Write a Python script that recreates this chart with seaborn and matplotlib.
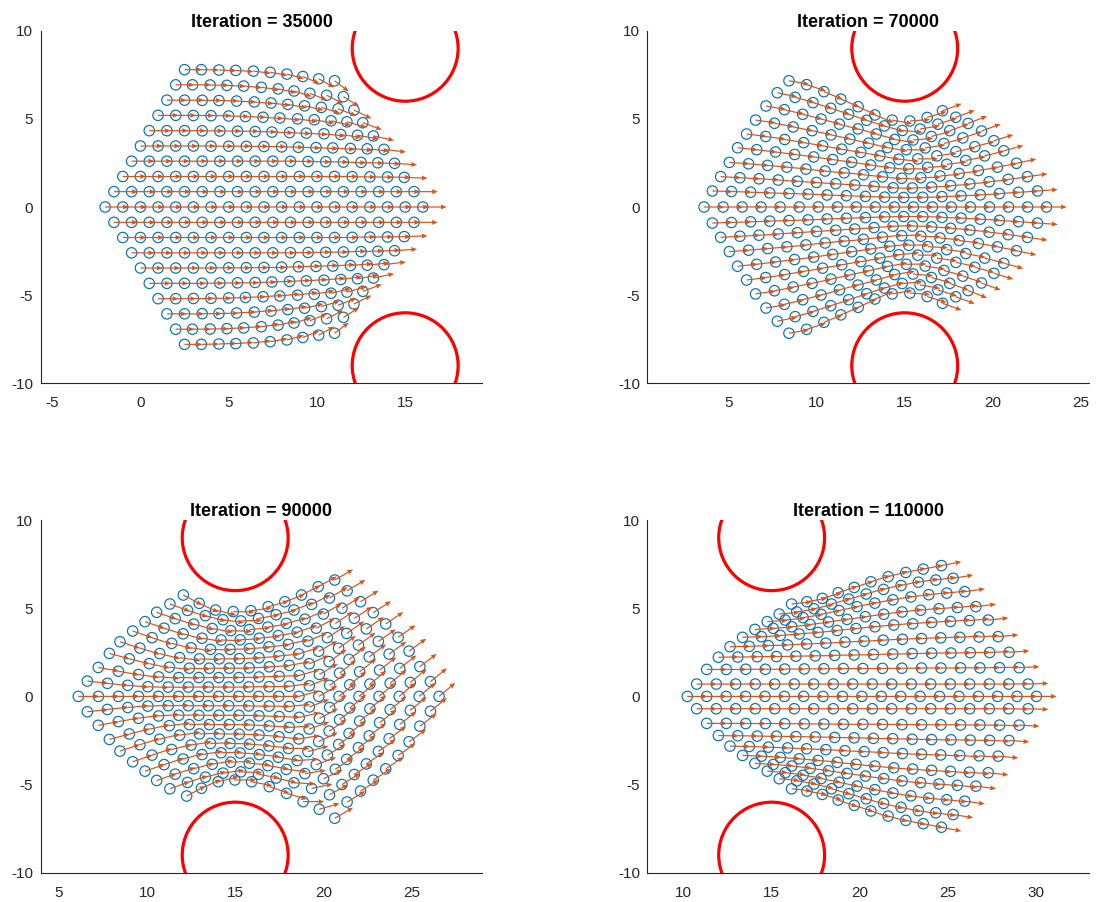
import numpy as np
import pandas as pd
import matplotlib
matplotlib.use("Agg")
import matplotlib.pyplot as plt
from matplotlib.patches import Circle
import seaborn as sns

# ---------------------------------------------------------------------------
# Swarm snapshots.  Each snapshot holds 19 rows of agents (row +9 at the top
# down to row -9 at the bottom); per agent: position and heading in degrees.
# ---------------------------------------------------------------------------
ITERATIONS = [35000, 70000, 90000, 110000]
OBSTACLE_CENTERS = [(15.0, 9.0), (15.0, -9.0)]
OBSTACLE_RADIUS = 3.0

# ---- Iteration 35000 -------------------------------------------------------
S1_X = [
    [2.5, 3.45, 4.45, 5.4, 6.4, 7.35, 8.3, 9.2, 10.1, 11.0],
    [2.0, 2.95, 3.95, 4.9, 5.85, 6.85, 7.8, 8.7, 9.6, 10.55, 11.5],
    [1.5, 2.5, 3.5, 4.45, 5.45, 6.45, 7.4, 8.35, 9.3, 10.25, 11.2, 12.1],
    [1.0, 2.0, 3.0, 4.0, 5.0, 5.95, 6.95, 7.9, 8.9, 9.85, 10.8, 11.7, 12.6],
    [0.5, 1.5, 2.5, 3.5, 4.5, 5.5, 6.5, 7.45, 8.45, 9.4, 10.4, 11.35, 12.3, 13.2],
    [0.0, 1.0, 2.0, 3.0, 4.0, 5.0, 6.0, 7.0, 8.0, 8.95, 9.95, 10.9, 11.9, 12.85, 13.8],
    [-0.5, 0.5, 1.5, 2.5, 3.5, 4.5, 5.5, 6.5, 7.5, 8.5, 9.5, 10.5, 11.5, 12.5, 13.45, 14.4],
    [-1, 0, 1, 2, 3, 4, 5, 6, 7, 8, 9, 10, 11, 12, 13, 14, 14.95],
    [-1.5, -0.5, 0.5, 1.5, 2.5, 3.5, 4.5, 5.5, 6.5, 7.5, 8.5, 9.5, 10.5, 11.5, 12.5, 13.5, 14.5, 15.5],
    [-2, -1, 0, 1, 2, 3, 4, 5, 6, 7, 8, 9, 10, 11, 12, 13, 14, 15, 16],
    [-1.5, -0.5, 0.5, 1.5, 2.5, 3.5, 4.5, 5.5, 6.5, 7.5, 8.5, 9.5, 10.5, 11.5, 12.5, 13.5, 14.5, 15.5],
    [-1, 0, 1, 2, 3, 4, 5, 6, 7, 8, 9, 10, 11, 12, 13, 14, 14.95],
    [-0.5, 0.5, 1.5, 2.5, 3.5, 4.5, 5.5, 6.5, 7.5, 8.5, 9.5, 10.5, 11.5, 12.5, 13.45, 14.4],
    [0.0, 1.0, 2.0, 3.0, 4.0, 5.0, 6.0, 7.0, 8.0, 8.95, 9.95, 10.9, 11.9, 12.85, 13.8],
    [0.5, 1.5, 2.5, 3.5, 4.5, 5.5, 6.5, 7.45, 8.45, 9.4, 10.4, 11.35, 12.3, 13.2],
    [1.0, 2.0, 3.0, 4.0, 5.0, 5.95, 6.95, 7.9, 8.9, 9.85, 10.8, 11.7, 12.6],
    [1.5, 2.5, 3.5, 4.45, 5.45, 6.45, 7.4, 8.35, 9.3, 10.25, 11.2, 12.1],
    [2.0, 2.95, 3.95, 4.9, 5.85, 6.85, 7.8, 8.7, 9.6, 10.55, 11.5],
    [2.5, 3.45, 4.45, 5.4, 6.4, 7.35, 8.3, 9.2, 10.1, 11.0],
]
S1_Y = [
    [7.79, 7.79, 7.77, 7.75, 7.71, 7.64, 7.54, 7.40, 7.27, 7.16],
    [6.93, 6.93, 6.92, 6.90, 6.86, 6.79, 6.70, 6.58, 6.45, 6.34, 6.26],
    [6.06, 6.06, 6.05, 6.04, 6.01, 5.96, 5.90, 5.82, 5.74, 5.65, 5.57, 5.50],
    [5.20, 5.20, 5.19, 5.18, 5.16, 5.13, 5.09, 5.05, 5.00, 4.95, 4.89, 4.83, 4.78],
    [4.33, 4.33, 4.33, 4.32, 4.31, 4.30, 4.28, 4.25, 4.22, 4.19, 4.15, 4.11, 4.07, 4.03],
    [3.46, 3.46, 3.46, 3.46, 3.45, 3.45, 3.44, 3.43, 3.41, 3.39, 3.37, 3.35, 3.32, 3.30, 3.27],
    [2.60, 2.60, 2.60, 2.60, 2.60, 2.60, 2.60, 2.60, 2.60, 2.59, 2.58, 2.57, 2.55, 2.53, 2.51, 2.48],
    [1.73, 1.73, 1.73, 1.73, 1.73, 1.73, 1.73, 1.73, 1.73, 1.73, 1.73, 1.73, 1.73, 1.72, 1.71, 1.70, 1.68],
    [0.87, 0.87, 0.87, 0.87, 0.87, 0.87, 0.87, 0.87, 0.87, 0.87, 0.87, 0.87, 0.87, 0.87, 0.87, 0.87, 0.87, 0.87],
    [0, 0, 0, 0, 0, 0, 0, 0, 0, 0, 0, 0, 0, 0, 0, 0, 0, 0, 0],
    [-0.87, -0.87, -0.87, -0.87, -0.87, -0.87, -0.87, -0.87, -0.87, -0.87, -0.87, -0.87, -0.87, -0.87, -0.87, -0.87, -0.87, -0.87],
    [-1.73, -1.73, -1.73, -1.73, -1.73, -1.73, -1.73, -1.73, -1.73, -1.73, -1.73, -1.73, -1.73, -1.72, -1.71, -1.70, -1.68],
    [-2.60, -2.60, -2.60, -2.60, -2.60, -2.60, -2.60, -2.60, -2.60, -2.59, -2.58, -2.57, -2.55, -2.53, -2.51, -2.48],
    [-3.46, -3.46, -3.46, -3.46, -3.45, -3.45, -3.44, -3.43, -3.41, -3.39, -3.37, -3.35, -3.32, -3.30, -3.27],
    [-4.33, -4.33, -4.33, -4.32, -4.31, -4.30, -4.28, -4.25, -4.22, -4.19, -4.15, -4.11, -4.07, -4.03],
    [-5.20, -5.20, -5.19, -5.18, -5.16, -5.13, -5.09, -5.05, -5.00, -4.95, -4.89, -4.83, -4.78],
    [-6.06, -6.06, -6.05, -6.04, -6.01, -5.96, -5.90, -5.82, -5.74, -5.65, -5.57, -5.50],
    [-6.93, -6.93, -6.92, -6.90, -6.86, -6.79, -6.70, -6.58, -6.45, -6.34, -6.26],
    [-7.79, -7.79, -7.77, -7.75, -7.71, -7.64, -7.54, -7.40, -7.27, -7.16],
]
S1_HEADING = [
    [0, -1, -2, -4, -7, -10, -15, -22, -29, -37],
    [0, 0, -1, -3, -5, -8, -12, -17, -22, -27, -32],
    [0, 0, 0, -1, -3, -5, -7, -10, -13, -17, -21, -26],
    [0, 0, 0, 0, -1, -2, -4, -6, -8, -10, -13, -16, -20],
    [0, 0, 0, 0, 0, 0, -1, -2, -3, -4, -6, -8, -10, -12],
    [0, 0, 0, 0, 0, 0, 0, 0, -1, -2, -3, -4, -5, -6, -7],
    [0, 0, 0, 0, 0, 0, 0, 0, 0, 0, -1, -1, -2, -2, -3, -4],
    [0, 0, 0, 0, 0, 0, 0, 0, 0, 0, 0, 0, 0, -1, -1, -1, -2],
    [0, 0, 0, 0, 0, 0, 0, 0, 0, 0, 0, 0, 0, 0, 0, 0, 0, 0],
    [0, 0, 0, 0, 0, 0, 0, 0, 0, 0, 0, 0, 0, 0, 0, 0, 0, 0, 0],
    [0, 0, 0, 0, 0, 0, 0, 0, 0, 0, 0, 0, 0, 0, 0, 0, 0, 0],
    [0, 0, 0, 0, 0, 0, 0, 0, 0, 0, 0, 0, 0, 1, 1, 1, 2],
    [0, 0, 0, 0, 0, 0, 0, 0, 0, 0, 1, 1, 2, 2, 3, 4],
    [0, 0, 0, 0, 0, 0, 0, 0, 1, 2, 3, 4, 5, 6, 7],
    [0, 0, 0, 0, 0, 0, 1, 2, 3, 4, 6, 8, 10, 12],
    [0, 0, 0, 0, 1, 2, 4, 6, 8, 10, 13, 16, 20],
    [0, 0, 0, 1, 3, 5, 7, 10, 13, 17, 21, 26],
    [0, 0, 1, 3, 5, 8, 12, 17, 22, 27, 32],
    [0, 1, 2, 4, 7, 10, 15, 22, 29, 37],
]
S1_SPEED = [1.0, 1.05, 1.1, 1.15, 1.2, 1.25, 1.28, 1.32, 1.35, 1.35,
            1.35, 1.32, 1.28, 1.25, 1.2, 1.15, 1.1, 1.05, 1.0]

# ---- Iteration 70000 -------------------------------------------------------
S2_X = [
    [8.44, 9.44, 10.42, 11.38, 12.36, 13.31, 14.29, 15.29, 16.27, 17.14],
    [7.78, 8.79, 9.80, 10.81, 11.82, 12.84, 13.85, 14.86, 15.87, 16.88, 17.89],
    [7.14, 8.18, 9.22, 10.26, 11.30, 12.35, 13.39, 14.43, 15.47, 16.51, 17.55, 18.59],
    [6.55, 7.62, 8.68, 9.75, 10.82, 11.89, 12.95, 14.02, 15.09, 16.16, 17.22, 18.29, 19.35],
    [6.04, 7.12, 8.20, 9.27, 10.35, 11.43, 12.51, 13.59, 14.66, 15.74, 16.82, 17.90, 18.97, 20.05],
    [5.53, 6.61, 7.68, 8.76, 9.84, 10.92, 11.99, 13.07, 14.15, 15.23, 16.30, 17.38, 18.46, 19.53, 20.61],
    [5.06, 6.15, 7.23, 8.32, 9.40, 10.49, 11.57, 12.66, 13.74, 14.83, 15.91, 17.00, 18.08, 19.17, 20.25, 21.33],
    [4.57, 5.66, 6.74, 7.83, 8.91, 10.00, 11.09, 12.17, 13.26, 14.34, 15.43, 16.52, 17.60, 18.69, 19.78, 20.86, 21.95],
    [4.10, 5.18, 6.27, 7.35, 8.44, 9.52, 10.60, 11.69, 12.77, 13.86, 14.94, 16.02, 17.11, 18.19, 19.28, 20.36, 21.44, 22.52],
    [3.63, 4.71, 5.79, 6.86, 7.94, 9.02, 10.10, 11.18, 12.25, 13.33, 14.41, 15.49, 16.57, 17.64, 18.72, 19.80, 20.88, 21.96, 23.03],
    [4.10, 5.18, 6.27, 7.35, 8.44, 9.52, 10.60, 11.69, 12.77, 13.86, 14.94, 16.02, 17.11, 18.19, 19.28, 20.36, 21.44, 22.52],
    [4.57, 5.66, 6.74, 7.83, 8.91, 10.00, 11.09, 12.17, 13.26, 14.34, 15.43, 16.52, 17.60, 18.69, 19.78, 20.86, 21.95],
    [5.06, 6.15, 7.23, 8.32, 9.40, 10.49, 11.57, 12.66, 13.74, 14.83, 15.91, 17.00, 18.08, 19.17, 20.25, 21.33],
    [5.53, 6.61, 7.68, 8.76, 9.84, 10.92, 11.99, 13.07, 14.15, 15.23, 16.30, 17.38, 18.46, 19.53, 20.61],
    [6.04, 7.12, 8.20, 9.27, 10.35, 11.43, 12.51, 13.59, 14.66, 15.74, 16.82, 17.90, 18.97, 20.05],
    [6.55, 7.62, 8.68, 9.75, 10.82, 11.89, 12.95, 14.02, 15.09, 16.16, 17.22, 18.29, 19.35],
    [7.14, 8.18, 9.22, 10.26, 11.30, 12.35, 13.39, 14.43, 15.47, 16.51, 17.55, 18.59],
    [7.78, 8.79, 9.80, 10.81, 11.82, 12.84, 13.85, 14.86, 15.87, 16.88, 17.89],
    [8.44, 9.44, 10.42, 11.38, 12.36, 13.31, 14.29, 15.29, 16.27, 17.14],
]
S2_Y = [
    [7.16, 6.94, 6.54, 6.12, 5.69, 5.22, 4.93, 4.88, 5.08, 5.46],
    [6.48, 6.22, 5.92, 5.60, 5.26, 4.92, 4.60, 4.34, 4.42, 4.70, 5.09],
    [5.73, 5.52, 5.26, 4.99, 4.70, 4.43, 4.14, 3.83, 3.80, 4.00, 4.33, 4.74],
    [4.93, 4.75, 4.54, 4.33, 4.09, 3.85, 3.62, 3.37, 3.25, 3.35, 3.60, 3.92, 4.31],
    [4.14, 4.00, 3.83, 3.65, 3.47, 3.28, 3.10, 2.90, 2.71, 2.73, 2.90, 3.14, 3.42, 3.76],
    [3.36, 3.25, 3.12, 2.98, 2.84, 2.69, 2.54, 2.38, 2.23, 2.17, 2.25, 2.42, 2.64, 2.90, 3.19],
    [2.53, 2.45, 2.36, 2.26, 2.15, 2.04, 1.94, 1.83, 1.71, 1.63, 1.66, 1.76, 1.90, 2.07, 2.26, 2.48],
    [1.72, 1.66, 1.60, 1.53, 1.46, 1.39, 1.32, 1.25, 1.17, 1.09, 1.08, 1.13, 1.21, 1.31, 1.43, 1.57, 1.72],
    [0.91, 0.88, 0.84, 0.80, 0.77, 0.73, 0.68, 0.64, 0.60, 0.56, 0.54, 0.55, 0.59, 0.63, 0.69, 0.76, 0.83, 0.91],
    [0, 0, 0, 0, 0, 0, 0, 0, 0, 0, 0, 0, 0, 0, 0, 0, 0, 0, 0],
    [-0.91, -0.88, -0.84, -0.80, -0.77, -0.73, -0.68, -0.64, -0.60, -0.56, -0.54, -0.55, -0.59, -0.63, -0.69, -0.76, -0.83, -0.91],
    [-1.72, -1.66, -1.60, -1.53, -1.46, -1.39, -1.32, -1.25, -1.17, -1.09, -1.08, -1.13, -1.21, -1.31, -1.43, -1.57, -1.72],
    [-2.53, -2.45, -2.36, -2.26, -2.15, -2.04, -1.94, -1.83, -1.71, -1.63, -1.66, -1.76, -1.90, -2.07, -2.26, -2.48],
    [-3.36, -3.25, -3.12, -2.98, -2.84, -2.69, -2.54, -2.38, -2.23, -2.17, -2.25, -2.42, -2.64, -2.90, -3.19],
    [-4.14, -4.00, -3.83, -3.65, -3.47, -3.28, -3.10, -2.90, -2.71, -2.73, -2.90, -3.14, -3.42, -3.76],
    [-4.93, -4.75, -4.54, -4.33, -4.09, -3.85, -3.62, -3.37, -3.25, -3.35, -3.60, -3.92, -4.31],
    [-5.73, -5.52, -5.26, -4.99, -4.70, -4.43, -4.14, -3.83, -3.80, -4.00, -4.33, -4.74],
    [-6.48, -6.22, -5.92, -5.60, -5.26, -4.92, -4.60, -4.34, -4.42, -4.70, -5.09],
    [-7.16, -6.94, -6.54, -6.12, -5.69, -5.22, -4.93, -4.88, -5.08, -5.46],
]
S2_HEADING = [
    [-10, -18, -22, -23, -25, -22, -10, 4, 17, 20],
    [-12, -15, -17, -18, -18, -18, -16, -5, 10, 18, 20],
    [-10, -13, -14, -15, -15, -15, -16, -9, 5, 15, 20, 21],
    [-8, -10, -11, -12, -12, -12, -13, -10, -1, 9, 15, 18, 20],
    [-7, -8, -9, -9, -10, -10, -10, -10, -6, 0, 8, 12, 15, 17],
    [-6, -7, -7, -7, -8, -8, -8, -8, -6, -1, 3, 7, 11, 14, 15],
    [-4, -5, -5, -5, -6, -6, -5, -6, -6, -3, 2, 5, 7, 9, 11, 12],
    [-3, -3, -3, -4, -4, -4, -4, -4, -4, -2, 1, 3, 4, 5, 6, 7, 8],
    [-2, -2, -2, -2, -2, -2, -2, -2, -2, -1, 0, 1, 2, 3, 3, 4, 4, 4],
    [0, 0, 0, 0, 0, 0, 0, 0, 0, 0, 0, 0, 0, 0, 0, 0, 0, 0, 0],
    [2, 2, 2, 2, 2, 2, 2, 2, 2, 1, 0, -1, -2, -3, -3, -4, -4, -4],
    [3, 3, 3, 4, 4, 4, 4, 4, 4, 2, -1, -3, -4, -5, -6, -7, -8],
    [4, 5, 5, 5, 6, 6, 5, 6, 6, 3, -2, -5, -7, -9, -11, -12],
    [6, 7, 7, 7, 8, 8, 8, 8, 6, 1, -3, -7, -11, -14, -15],
    [7, 8, 9, 9, 10, 10, 10, 10, 6, 0, -8, -12, -15, -17],
    [8, 10, 11, 12, 12, 12, 13, 10, 1, -9, -15, -18, -20],
    [10, 13, 14, 15, 15, 15, 16, 9, -5, -15, -20, -21],
    [12, 15, 17, 18, 18, 18, 16, 5, -10, -18, -20],
    [10, 18, 22, 23, 25, 22, 10, -4, -17, -20],
]
S2_SPEED = [1.15, 1.15, 1.15, 1.15, 1.15, 1.15, 1.15, 1.15, 1.15, 1.15,
            1.15, 1.15, 1.15, 1.15, 1.15, 1.15, 1.15, 1.15, 1.15]

# ---- Iteration 90000 -------------------------------------------------------
S3_X = [
    [12.06, 12.96, 13.89, 14.89, 15.89, 16.87, 17.81, 18.76, 19.70, 20.64],
    [11.30, 12.30, 13.31, 14.31, 15.32, 16.32, 17.32, 18.33, 19.33, 20.34, 21.34],
    [10.55, 11.60, 12.65, 13.70, 14.75, 15.80, 16.85, 17.90, 18.95, 20.00, 21.05, 22.10],
    [9.89, 10.97, 12.05, 13.12, 14.20, 15.28, 16.36, 17.44, 18.51, 19.59, 20.67, 21.75, 22.82],
    [9.19, 10.29, 11.40, 12.50, 13.60, 14.71, 15.81, 16.91, 18.01, 19.12, 20.22, 21.32, 22.43, 23.53],
    [8.47, 9.60, 10.72, 11.85, 12.97, 14.10, 15.23, 16.35, 17.48, 18.60, 19.73, 20.86, 21.98, 23.11, 24.23],
    [7.87, 9.00, 10.13, 11.27, 12.40, 13.53, 14.66, 15.79, 16.93, 18.06, 19.19, 20.32, 21.45, 22.59, 23.72, 24.85],
    [7.24, 8.38, 9.52, 10.66, 11.80, 12.94, 14.07, 15.21, 16.35, 17.49, 18.63, 19.77, 20.91, 22.05, 23.18, 24.32, 25.46],
    [6.62, 7.76, 8.91, 10.05, 11.20, 12.34, 13.48, 14.63, 15.77, 16.92, 18.06, 19.20, 20.35, 21.49, 22.63, 23.78, 24.92, 26.06],
    [6.11, 7.25, 8.38, 9.52, 10.65, 11.79, 12.93, 14.06, 15.20, 16.33, 17.47, 18.61, 19.74, 20.88, 22.01, 23.15, 24.29, 25.42, 26.55],
    [6.62, 7.76, 8.91, 10.05, 11.20, 12.34, 13.48, 14.63, 15.77, 16.92, 18.06, 19.20, 20.35, 21.49, 22.63, 23.78, 24.92, 26.06],
    [7.24, 8.38, 9.52, 10.66, 11.80, 12.94, 14.07, 15.21, 16.35, 17.49, 18.63, 19.77, 20.91, 22.05, 23.18, 24.32, 25.46],
    [7.87, 9.00, 10.13, 11.27, 12.40, 13.53, 14.66, 15.79, 16.93, 18.06, 19.19, 20.32, 21.45, 22.59, 23.72, 24.85],
    [8.47, 9.60, 10.72, 11.85, 12.97, 14.10, 15.23, 16.35, 17.48, 18.60, 19.73, 20.86, 21.98, 23.11, 24.23],
    [9.19, 10.29, 11.40, 12.50, 13.60, 14.71, 15.81, 16.91, 18.01, 19.12, 20.22, 21.32, 22.43, 23.53],
    [9.89, 10.97, 12.05, 13.12, 14.20, 15.28, 16.36, 17.44, 18.51, 19.59, 20.67, 21.75, 22.82],
    [10.55, 11.60, 12.65, 13.70, 14.75, 15.80, 16.85, 17.90, 18.95, 20.00, 21.05, 22.10],
    [11.30, 12.30, 13.31, 14.31, 15.32, 16.32, 17.32, 18.33, 19.33, 20.34, 21.34],
    [12.25, 13.09, 14.04, 14.98, 15.93, 16.93, 17.91, 18.85, 19.76, 20.64],
]
S3_Y = [
    [5.75, 5.28, 4.90, 4.81, 4.86, 5.09, 5.37, 5.75, 6.22, 6.60],
    [5.24, 4.88, 4.58, 4.35, 4.28, 4.42, 4.63, 4.90, 5.22, 5.58, 5.99],
    [4.77, 4.41, 4.10, 3.85, 3.73, 3.79, 3.93, 4.14, 4.38, 4.67, 5.00, 5.37],
    [4.24, 3.87, 3.55, 3.30, 3.20, 3.21, 3.30, 3.45, 3.64, 3.87, 4.13, 4.43, 4.75],
    [3.71, 3.33, 3.01, 2.76, 2.67, 2.67, 2.71, 2.81, 2.95, 3.13, 3.33, 3.57, 3.83, 4.11],
    [3.10, 2.74, 2.43, 2.20, 2.13, 2.13, 2.14, 2.19, 2.29, 2.41, 2.56, 2.73, 2.91, 3.12, 3.35],
    [2.44, 2.13, 1.86, 1.66, 1.60, 1.60, 1.60, 1.62, 1.68, 1.76, 1.85, 1.97, 2.10, 2.24, 2.40, 2.57],
    [1.64, 1.43, 1.24, 1.11, 1.07, 1.07, 1.07, 1.07, 1.10, 1.14, 1.19, 1.25, 1.32, 1.40, 1.49, 1.59, 1.69],
    [0.87, 0.74, 0.63, 0.55, 0.53, 0.53, 0.53, 0.53, 0.54, 0.55, 0.57, 0.60, 0.63, 0.66, 0.70, 0.75, 0.79, 0.84],
    [0, 0, 0, 0, 0, 0, 0, 0, 0, 0, 0, 0, 0, 0, 0, 0, 0, 0, 0],
    [-0.87, -0.74, -0.63, -0.55, -0.53, -0.53, -0.53, -0.53, -0.54, -0.55, -0.57, -0.60, -0.63, -0.66, -0.70, -0.75, -0.79, -0.84],
    [-1.64, -1.43, -1.24, -1.11, -1.07, -1.07, -1.07, -1.07, -1.10, -1.14, -1.19, -1.25, -1.32, -1.40, -1.49, -1.59, -1.69],
    [-2.44, -2.13, -1.86, -1.66, -1.60, -1.60, -1.60, -1.62, -1.68, -1.76, -1.85, -1.97, -2.10, -2.24, -2.40, -2.57],
    [-3.10, -2.74, -2.43, -2.20, -2.13, -2.13, -2.14, -2.19, -2.29, -2.41, -2.56, -2.73, -2.91, -3.12, -3.35],
    [-3.71, -3.33, -3.01, -2.76, -2.67, -2.67, -2.71, -2.81, -2.95, -3.13, -3.33, -3.57, -3.83, -4.11],
    [-4.24, -3.87, -3.55, -3.30, -3.20, -3.21, -3.30, -3.45, -3.64, -3.87, -4.13, -4.43, -4.75],
    [-4.77, -4.41, -4.10, -3.85, -3.73, -3.79, -3.93, -4.14, -4.38, -4.67, -5.00, -5.37],
    [-5.24, -4.88, -4.58, -4.35, -4.28, -4.42, -4.63, -4.90, -5.22, -5.58, -5.99],
    [-5.65, -5.21, -4.84, -4.74, -4.84, -5.12, -5.50, -5.97, -6.40, -6.91],
]
S3_HEADING = [
    [-28, -25, -14, -1, 8, 15, 20, 27, 29, 30],
    [-20, -18, -15, -8, 2, 10, 13, 21, 27, 31, 31],
    [-19, -18, -15, -10, -2, 5, 9, 15, 23, 30, 32, 32],
    [-19, -18, -15, -9, -2, 3, 6, 9, 19, 28, 34, 33, 33],
    [-19, -18, -14, -9, -2, 1, 4, 6, 13, 24, 33, 35, 34, 34],
    [-18, -17, -14, -8, -2, 0, 2, 4, 6, 18, 29, 36, 36, 35, 35],
    [-15, -14, -12, -7, -2, 0, 0, 2, 3, 10, 23, 35, 37, 37, 36, 36],
    [-10, -10, -8, -4, -1, 0, 0, 1, 2, 2, 16, 30, 38, 38, 38, 38, 37],
    [-6, -6, -5, -2, -1, 0, 0, 0, 1, 1, 8, 22, 37, 39, 39, 39, 39, 39],
    [0, 0, 0, 0, 0, 0, 0, 0, 0, 0, 0, 15, 30, 40, 40, 40, 40, 40, 40],
    [6, 6, 5, 2, 1, 0, 0, 0, -1, -1, 6, 21, 36, 39, 39, 39, 39, 39],
    [10, 10, 8, 4, 1, 0, 0, -1, -2, -2, 13, 28, 38, 38, 38, 38, 37],
    [15, 14, 12, 7, 2, 0, 0, -2, -3, 4, 19, 34, 37, 37, 36, 36],
    [18, 17, 14, 8, 2, 0, -2, -4, -6, 9, 25, 36, 36, 35, 35],
    [19, 18, 14, 9, 2, -1, -4, -6, 0, 15, 31, 35, 34, 34],
    [19, 18, 15, 9, 2, -3, -6, -9, 4, 20, 34, 33, 33],
    [19, 18, 15, 10, 2, -5, -9, -6, 9, 25, 32, 32],
    [20, 18, 15, 8, -2, -10, -13, -3, 12, 29, 31],
    [28, 24, 14, 0, -11, -18, -16, 0, 16, 30],
]
S3_SPEED = [1.2, 1.2, 1.2, 1.2, 1.2, 1.2, 1.2, 1.2, 1.2, 1.2,
            1.2, 1.2, 1.2, 1.2, 1.2, 1.2, 1.2, 1.2, 1.2]

# ---- Iteration 110000 ------------------------------------------------------
S4_X = [
    [16.13, 17.00, 17.87, 18.77, 19.68, 20.62, 21.60, 22.60, 23.59, 24.62],
    [15.43, 16.42, 17.40, 18.39, 19.37, 20.36, 21.34, 22.33, 23.31, 24.30, 25.28],
    [14.75, 15.77, 16.78, 17.80, 18.82, 19.84, 20.85, 21.87, 22.89, 23.90, 24.92, 25.94],
    [14.05, 15.09, 16.14, 17.18, 18.22, 19.27, 20.31, 21.35, 22.39, 23.44, 24.48, 25.52, 26.57],
    [13.35, 14.42, 15.49, 16.56, 17.63, 18.71, 19.78, 20.85, 21.92, 22.99, 24.06, 25.13, 26.20, 27.27],
    [12.64, 13.73, 14.81, 15.90, 16.98, 18.07, 19.15, 20.24, 21.32, 22.41, 23.49, 24.58, 25.66, 26.75, 27.83],
    [11.98, 13.08, 14.18, 15.27, 16.37, 17.47, 18.57, 19.67, 20.76, 21.86, 22.96, 24.06, 25.16, 26.25, 27.35, 28.45],
    [11.32, 12.43, 13.53, 14.64, 15.74, 16.85, 17.96, 19.06, 20.17, 21.28, 22.38, 23.49, 24.59, 25.70, 26.80, 27.91, 29.02],
    [10.75, 11.86, 12.96, 14.07, 15.17, 16.28, 17.38, 18.49, 19.59, 20.70, 21.80, 22.91, 24.01, 25.12, 26.22, 27.33, 28.43, 29.53],
    [10.22, 11.32, 12.42, 13.52, 14.62, 15.72, 16.81, 17.91, 19.01, 20.11, 21.21, 22.31, 23.41, 24.51, 25.61, 26.71, 27.80, 28.90, 30.00],
    [10.75, 11.86, 12.96, 14.07, 15.17, 16.28, 17.38, 18.49, 19.59, 20.70, 21.80, 22.91, 24.01, 25.12, 26.22, 27.33, 28.43, 29.53],
    [11.32, 12.43, 13.53, 14.64, 15.74, 16.85, 17.96, 19.06, 20.17, 21.28, 22.38, 23.49, 24.59, 25.70, 26.80, 27.91, 29.02],
    [11.98, 13.08, 14.18, 15.27, 16.37, 17.47, 18.57, 19.67, 20.76, 21.86, 22.96, 24.06, 25.16, 26.25, 27.35, 28.45],
    [12.64, 13.73, 14.81, 15.90, 16.98, 18.07, 19.15, 20.24, 21.32, 22.41, 23.49, 24.58, 25.66, 26.75, 27.83],
    [13.35, 14.42, 15.49, 16.56, 17.63, 18.71, 19.78, 20.85, 21.92, 22.99, 24.06, 25.13, 26.20, 27.27],
    [14.05, 15.09, 16.14, 17.18, 18.22, 19.27, 20.31, 21.35, 22.39, 23.44, 24.48, 25.52, 26.57],
    [14.75, 15.77, 16.78, 17.80, 18.82, 19.84, 20.85, 21.87, 22.89, 23.90, 24.92, 25.94],
    [15.43, 16.42, 17.40, 18.39, 19.37, 20.36, 21.34, 22.33, 23.31, 24.30, 25.28],
    [16.13, 17.00, 17.87, 18.77, 19.68, 20.62, 21.60, 22.60, 23.59, 24.62],
]
S4_Y = [
    [5.24, 5.37, 5.56, 5.88, 6.18, 6.50, 6.79, 7.03, 7.22, 7.42],
    [4.67, 4.79, 4.97, 5.24, 5.52, 5.81, 6.07, 6.29, 6.48, 6.60, 6.70],
    [4.24, 4.33, 4.47, 4.66, 4.87, 5.09, 5.29, 5.48, 5.64, 5.77, 5.86, 5.94],
    [3.80, 3.86, 3.95, 4.08, 4.22, 4.37, 4.52, 4.66, 4.79, 4.89, 4.97, 5.04, 5.09],
    [3.35, 3.39, 3.46, 3.54, 3.63, 3.74, 3.85, 3.95, 4.05, 4.12, 4.19, 4.25, 4.30, 4.33],
    [2.82, 2.84, 2.88, 2.92, 2.97, 3.02, 3.08, 3.13, 3.19, 3.24, 3.28, 3.32, 3.35, 3.37, 3.39],
    [2.22, 2.23, 2.25, 2.26, 2.28, 2.30, 2.33, 2.35, 2.38, 2.40, 2.43, 2.45, 2.46, 2.48, 2.49, 2.50],
    [1.53, 1.53, 1.54, 1.54, 1.55, 1.56, 1.57, 1.58, 1.58, 1.59, 1.60, 1.61, 1.61, 1.62, 1.62, 1.63, 1.63],
    [0.70, 0.70, 0.70, 0.70, 0.70, 0.70, 0.70, 0.70, 0.70, 0.70, 0.70, 0.70, 0.70, 0.70, 0.70, 0.70, 0.70, 0.70],
    [0, 0, 0, 0, 0, 0, 0, 0, 0, 0, 0, 0, 0, 0, 0, 0, 0, 0, 0],
    [-0.70, -0.70, -0.70, -0.70, -0.70, -0.70, -0.70, -0.70, -0.70, -0.70, -0.70, -0.70, -0.70, -0.70, -0.70, -0.70, -0.70, -0.70],
    [-1.53, -1.53, -1.54, -1.54, -1.55, -1.56, -1.57, -1.58, -1.58, -1.59, -1.60, -1.61, -1.61, -1.62, -1.62, -1.63, -1.63],
    [-2.22, -2.23, -2.25, -2.26, -2.28, -2.30, -2.33, -2.35, -2.38, -2.40, -2.43, -2.45, -2.46, -2.48, -2.49, -2.50],
    [-2.82, -2.84, -2.88, -2.92, -2.97, -3.02, -3.08, -3.13, -3.19, -3.24, -3.28, -3.32, -3.35, -3.37, -3.39],
    [-3.35, -3.39, -3.46, -3.54, -3.63, -3.74, -3.85, -3.95, -4.05, -4.12, -4.19, -4.25, -4.30, -4.33],
    [-3.80, -3.86, -3.95, -4.08, -4.22, -4.37, -4.52, -4.66, -4.79, -4.89, -4.97, -5.04, -5.09],
    [-4.24, -4.33, -4.47, -4.66, -4.87, -5.09, -5.29, -5.48, -5.64, -5.77, -5.86, -5.94],
    [-4.67, -4.79, -4.97, -5.24, -5.52, -5.81, -6.07, -6.29, -6.48, -6.60, -6.70],
    [-5.24, -5.37, -5.56, -5.88, -6.18, -6.50, -6.79, -7.03, -7.22, -7.42],
]
S4_HEADING = [
    [6, 10, 16, 19, 18, 18, 15, 12, 11, 11],
    [5, 9, 13, 16, 16, 16, 14, 12, 9, 8, 9],
    [4, 6, 9, 11, 12, 12, 11, 10, 8, 6, 6, 8],
    [3, 4, 6, 7, 8, 8, 8, 8, 7, 6, 5, 6, 7],
    [2, 3, 4, 5, 5, 6, 6, 6, 5, 5, 5, 5, 5, 6],
    [1, 2, 2, 3, 3, 3, 3, 3, 3, 3, 3, 3, 4, 4, 5],
    [1, 1, 1, 1, 1, 1, 1, 1, 1, 1, 1, 1, 1, 1, 3, 4],
    [0, 0, 0, 0, 0, 0, 0, 0, 0, 0, 0, 0, 0, 0, 1, 2, 3],
    [0, 0, 0, 0, 0, 0, 0, 0, 0, 0, 0, 0, 0, 0, 0, 0, 1, 2],
    [0, 0, 0, 0, 0, 0, 0, 0, 0, 0, 0, 0, 0, 0, 0, 0, 0, 0, 0],
    [0, 0, 0, 0, 0, 0, 0, 0, 0, 0, 0, 0, 0, 0, 0, 0, -1, -2],
    [0, 0, 0, 0, 0, 0, 0, 0, 0, 0, 0, 0, 0, 0, -1, -2, -3],
    [-1, -1, -1, -1, -1, -1, -1, -1, -1, -1, -1, -1, -1, -1, -3, -4],
    [-1, -2, -2, -3, -3, -3, -3, -3, -3, -3, -3, -3, -4, -4, -5],
    [-2, -3, -4, -5, -5, -6, -6, -6, -5, -5, -5, -5, -5, -6],
    [-3, -4, -6, -7, -8, -8, -8, -8, -7, -6, -5, -6, -7],
    [-4, -6, -9, -11, -12, -12, -11, -10, -8, -6, -6, -8],
    [-5, -9, -13, -16, -16, -16, -14, -12, -9, -8, -9],
    [-6, -10, -16, -19, -18, -18, -15, -12, -11, -11],
]
S4_SPEED = [1.15, 1.15, 1.15, 1.15, 1.15, 1.15, 1.15, 1.15, 1.15, 1.15,
            1.15, 1.15, 1.15, 1.15, 1.15, 1.15, 1.15, 1.15, 1.15]

# Axis windows and tick positions for each snapshot
X_LIMITS = [(-5.65, 19.37), (0.42, 25.44), (3.98, 29.00), (7.96, 32.98)]
X_TICKS = [[-5, 0, 5, 10, 15], [5, 10, 15, 20, 25], [5, 10, 15, 20, 25], [10, 15, 20, 25, 30]]
Y_TICKS = [-10, -5, 0, 5, 10]

AGENT_COLOR = "#0072BD"
ARROW_COLOR = "#D95319"
OBSTACLE_COLOR = "#FF0000"
AXIS_COLOR = "#262626"


def snapshot_frame(xs, ys, headings, speeds):
    records = []
    for row_x, row_y, row_h, spd in zip(xs, ys, headings, speeds):
        assert len(row_x) == len(row_y) == len(row_h), (row_x, row_y, row_h)
        for x, y, h in zip(row_x, row_y, row_h):
            a = np.radians(h)
            records.append((x, y, spd * np.cos(a), spd * np.sin(a)))
    return pd.DataFrame(records, columns=["x", "y", "u", "v"])


snapshots = [
    snapshot_frame(S1_X, S1_Y, S1_HEADING, S1_SPEED),
    snapshot_frame(S2_X, S2_Y, S2_HEADING, S2_SPEED),
    snapshot_frame(S3_X, S3_Y, S3_HEADING, S3_SPEED),
    snapshot_frame(S4_X, S4_Y, S4_HEADING, S4_SPEED),
]

sns.set_style("white")
plt.rcParams["font.family"] = ["Liberation Sans", "DejaVu Sans"]
plt.rcParams["axes.unicode_minus"] = False

W, H = 1101, 902
fig = plt.figure(figsize=(W / 100, H / 100), dpi=100)
fig.patch.set_facecolor("white")

# axes boxes in pixels: (left, top); all boxes share one size
boxes = [(40.7, 30.7), (647.4, 30.7), (40.7, 520.1), (647.4, 520.1)]
box_w, box_h = 441.6, 352.6

for i, df in enumerate(snapshots):
    left, top = boxes[i]
    ax = fig.add_axes([left / W, 1 - (top + box_h) / H, box_w / W, box_h / H])
    ax.set_facecolor("white")

    sns.scatterplot(data=df, x="x", y="y", ax=ax, marker="o", s=56,
                    facecolor="none", edgecolor=AGENT_COLOR, linewidth=0.85,
                    legend=False, zorder=2)
    ax.quiver(df["x"], df["y"], df["u"], df["v"], angles="xy",
              scale_units="xy", scale=1, units="xy", width=0.068,
              headwidth=4.2, headlength=5.0, headaxislength=4.5,
              color=ARROW_COLOR, zorder=3)

    for c in OBSTACLE_CENTERS:
        ax.add_patch(Circle(c, OBSTACLE_RADIUS, fill=False,
                            edgecolor=OBSTACLE_COLOR, linewidth=2.3, zorder=4))

    ax.set_xlim(*X_LIMITS[i])
    ax.set_ylim(-10, 10)
    ax.set_xticks(X_TICKS[i])
    ax.set_yticks(Y_TICKS)
    ax.set_xlabel("")
    ax.set_ylabel("")
    for side in ["top", "right"]:
        ax.spines[side].set_visible(False)
    for side in ["left", "bottom"]:
        ax.spines[side].set_color(AXIS_COLOR)
        ax.spines[side].set_linewidth(0.8)
    ax.tick_params(direction="in", length=3.5, width=0.8, color=AXIS_COLOR,
                   labelsize=11, labelcolor=AXIS_COLOR)
    ax.tick_params(axis="x", pad=9.5)
    ax.tick_params(axis="y", pad=5.3)
    ax.set_title(f"Iteration = {ITERATIONS[i]}", fontsize=13,
                 fontweight="bold", pad=3, color="black")

fig.savefig("out.png", dpi=100, facecolor="white")
